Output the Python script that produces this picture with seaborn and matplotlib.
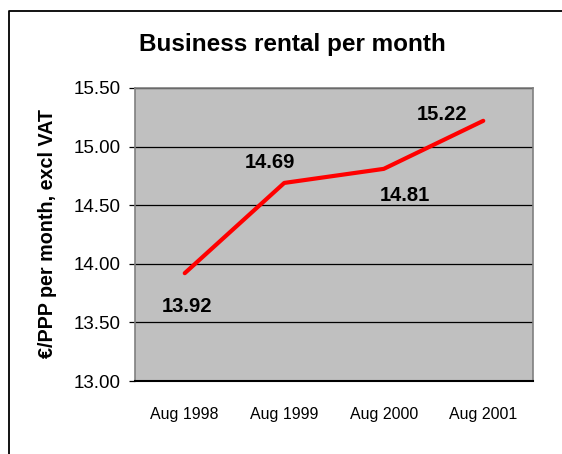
import matplotlib
matplotlib.use("Agg")
import matplotlib.pyplot as plt
import seaborn as sns
import pandas as pd
from matplotlib.lines import Line2D

periods = ["Aug 1998", "Aug 1999", "Aug 2000", "Aug 2001"]
rent = [13.92, 14.69, 14.81, 15.22]
yticks = [13.00, 13.50, 14.00, 14.50, 15.00, 15.50]
# label offsets in points (dx, dy) relative to each point
label_offsets = [(1.5, -24), (-10, 14.5), (15, -19.5), (-29.5, 4.5)]

sns.set_style("white")
plt.rcParams["font.family"] = ["Liberation Sans", "DejaVu Sans"]
plt.rcParams["text.color"] = "black"
plt.rcParams["xtick.color"] = "black"
plt.rcParams["ytick.color"] = "black"
plt.rcParams["axes.labelcolor"] = "black"

df = pd.DataFrame({"period": periods, "rent": rent})

fig = plt.figure(figsize=(5.62, 4.54), dpi=100)
ax = fig.add_axes([135 / 562, 1 - 381 / 454, 398 / 562, 293 / 454])
ax.set_facecolor("#C0C0C0")

sns.lineplot(data=df, x="period", y="rent", ax=ax, color="#FF0000",
             linewidth=3, sort=False, zorder=3)

ax.set_xlim(-0.5, len(periods) - 0.5)
ax.set_ylim(13.0, 15.5)
ax.set_yticks(yticks)
ax.set_yticklabels([f"{v:.2f}" for v in yticks], fontsize=13.5)
ax.yaxis.grid(True, color="black", linewidth=0.9)
ax.set_axisbelow(True)

ax.set_xticks(range(len(periods)))
ax.set_xticklabels(periods, fontsize=11.5)
ax.set_xticks([i - 0.5 for i in range(len(periods) + 1)], minor=True)
ax.tick_params(axis="x", which="major", length=0, pad=19)
ax.tick_params(axis="x", which="minor", length=4, width=0.9, color="black")
ax.tick_params(axis="y", length=4, width=0.9, color="black", pad=6, left=True)

ax.set_xlabel("")
ax.set_ylabel("")

for side in ["left", "top", "right"]:
    ax.spines[side].set_color("#808080")
    ax.spines[side].set_linewidth(1.2)
ax.spines["bottom"].set_color("black")
ax.spines["bottom"].set_linewidth(1.5)

for i, (v, off) in enumerate(zip(rent, label_offsets)):
    ax.annotate(f"{v:.2f}", (i, v), xytext=off, textcoords="offset points",
                ha="center", va="center", fontsize=14.5, fontweight="bold",
                color="black")

fig.text(292 / 562, 1 - 44 / 454, "Business rental per month",
         ha="center", va="center", fontsize=17.5, fontweight="bold", color="black")
fig.text(48 / 562, 1 - 233 / 454, "€/PPP per month, excl VAT",
         ha="center", va="center", rotation=90, fontsize=14.2, fontweight="bold",
         color="black")

fig.add_artist(Line2D([8.5 / 562, 8.5 / 562, 1.0], [0.0, 1 - 10.5 / 454, 1 - 10.5 / 454],
                      transform=fig.transFigure, color="black", linewidth=1.3))

fig.savefig("out.png", dpi=100, facecolor="white")
